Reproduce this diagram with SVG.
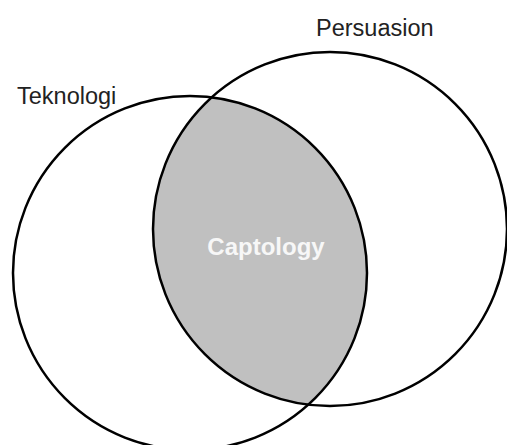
<svg xmlns="http://www.w3.org/2000/svg" width="507" height="445" viewBox="0 0 507 445">
  <style>
    .ring { fill: none; stroke: #000; stroke-width: 2.5; }
    .label { font-family: "Liberation Sans", Arial, sans-serif; font-size: 23.5px; fill: #222; }
    .core { font-family: "Liberation Sans", Arial, sans-serif; font-size: 24px; font-weight: bold; fill: #f7f7f7; }
  </style>
  <defs>
    <clipPath id="clip-tech">
      <circle cx="190" cy="273" r="177"/>
    </clipPath>
  </defs>
  <rect width="507" height="445" fill="#fff"/>
  <!-- shared area of both sets -->
  <g id="overlap">
    <circle cx="330" cy="229" r="177" fill="#c0c0c0" clip-path="url(#clip-tech)"/>
    <text class="core" x="266" y="255" text-anchor="middle">Captology</text>
  </g>
  <g id="teknologi">
    <circle class="ring" cx="190" cy="273" r="177"/>
    <text class="label" x="17" y="104">Teknologi</text>
  </g>
  <g id="persuasion">
    <circle class="ring" cx="330" cy="229" r="177"/>
    <text class="label" x="316" y="36">Persuasion</text>
  </g>
</svg>
